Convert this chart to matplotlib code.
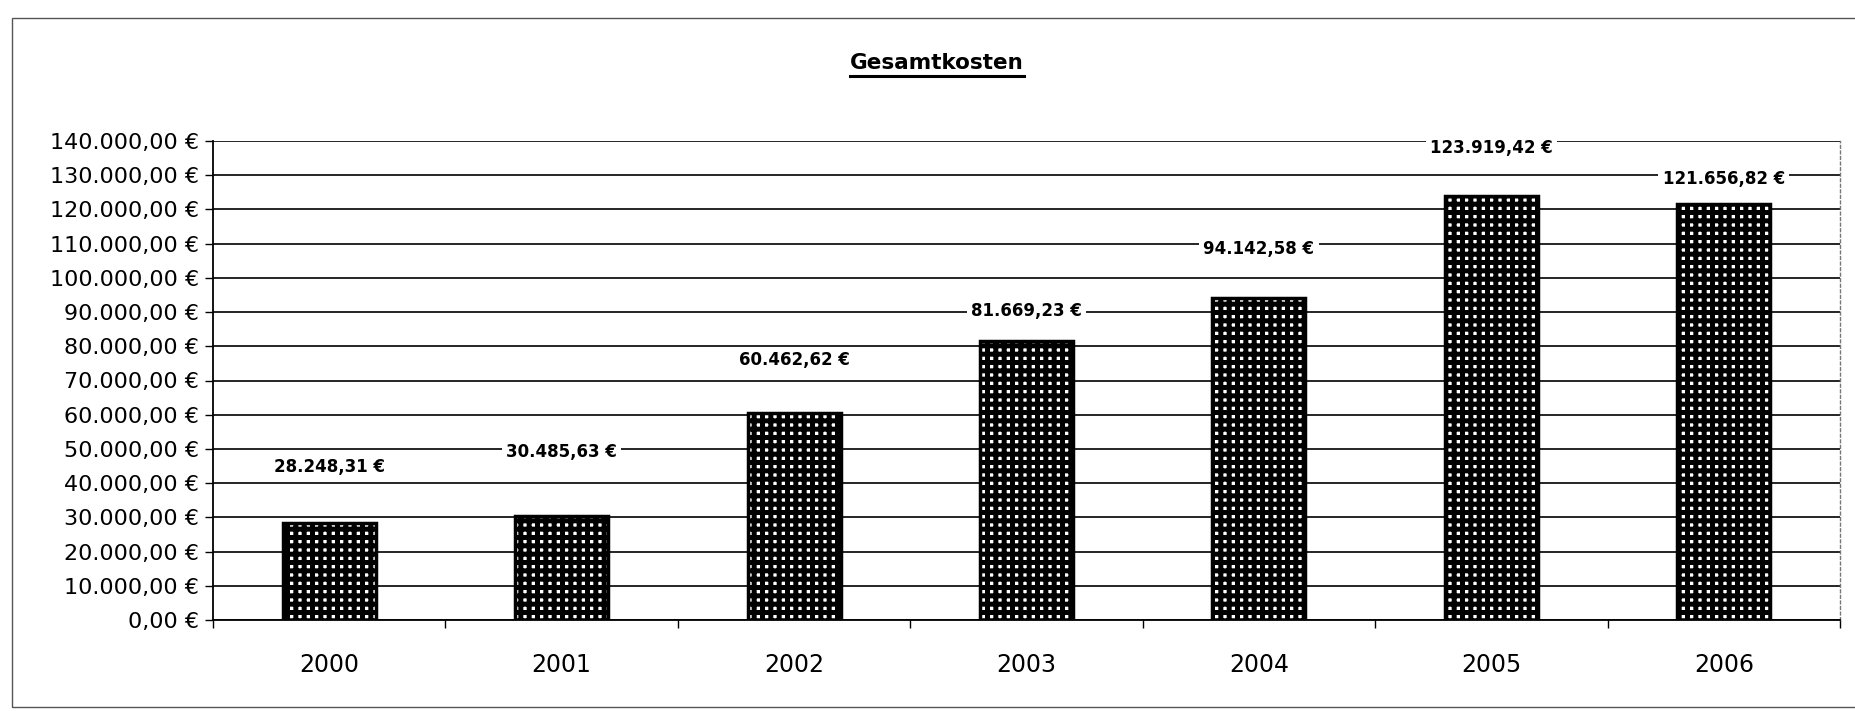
import matplotlib
matplotlib.use("Agg")
import matplotlib.pyplot as plt
from matplotlib.lines import Line2D
from matplotlib.patches import Rectangle
import numpy as np

# ---- data ----
years = ["2000", "2001", "2002", "2003", "2004", "2005", "2006"]
kosten = [28248.31, 30485.63, 60462.62, 81669.23, 94142.58, 123919.42, 121656.82]
y_ticks = [0, 10000, 20000, 30000, 40000, 50000, 60000, 70000,
           80000, 90000, 100000, 110000, 120000, 130000, 140000]
title = "Gesamtkosten"

# layout: heights (in data units) at which the value labels sit
label_levels = [44800, 49000, 76000, 90400, 108500, 138000, 129000]


def de_euro(v):
    s = f"{v:,.2f}"
    s = s.replace(",", "X").replace(".", ",").replace("X", ".")
    return s + " €"


plt.rcParams['font.family'] = ['DejaVu Sans']
plt.rcParams['hatch.linewidth'] = 3.6

W, H = 1855, 711
fig = plt.figure(figsize=(W / 100, H / 100), dpi=100)
fig.patch.set_facecolor("white")

ax = fig.add_axes([213 / W, 1 - 620 / H, 1627 / W, (620 - 141) / H])
x = np.arange(len(years))
ax.bar(x, kosten, width=0.40, facecolor="white", edgecolor="black",
       hatch="++", linewidth=2.5, zorder=3)

ax.set_xlim(-0.5, len(years) - 0.5)
ax.set_ylim(0, 140000)
ax.set_yticks(y_ticks)
ax.set_yticklabels([de_euro(v) for v in y_ticks], fontsize=16)
ax.set_xticks(x)
ax.set_xticklabels(years, fontsize=17)
ax.set_xticks(np.arange(-0.5, len(years), 1.0), minor=True)
ax.tick_params(axis="x", which="major", length=0, pad=24)
ax.tick_params(axis="x", which="minor", length=6, width=1, direction="out")
ax.tick_params(axis="y", which="major", length=6, width=1, direction="out", pad=4)

ax.set_axisbelow(True)
ax.yaxis.grid(True, color="black", linewidth=1.2)
ax.spines["top"].set_visible(False)
ax.spines["right"].set_color("#777777")
ax.spines["right"].set_linestyle((0, (2, 2)))
ax.spines["right"].set_linewidth(1)
ax.spines["left"].set_linewidth(1.3)
ax.spines["bottom"].set_linewidth(1.3)

for xi, v, lv in zip(x, kosten, label_levels):
    ax.text(xi, lv, de_euro(v), ha="center", va="center", fontsize=12,
            fontweight="bold", zorder=5, clip_on=False,
            bbox=dict(facecolor="white", edgecolor="none", pad=3))

t = fig.text(937 / W, 1 - 63 / H, title, ha="center", va="center",
             fontsize=15.5, fontweight="bold")

# outer chart border
fig.add_artist(Rectangle((12 / W, 1 - 707 / H), (W + 20) / W, (707 - 18) / H,
                         transform=fig.transFigure, fill=False,
                         edgecolor="#555555", linewidth=1))

fig.canvas.draw()
bb = t.get_window_extent()
fig.add_artist(Line2D([bb.x0 / W, bb.x1 / W], [(bb.y0 - 3) / H, (bb.y0 - 3) / H],
                      transform=fig.transFigure, color="black", linewidth=2.2))

fig.savefig("out.png", dpi=100, facecolor="white")
